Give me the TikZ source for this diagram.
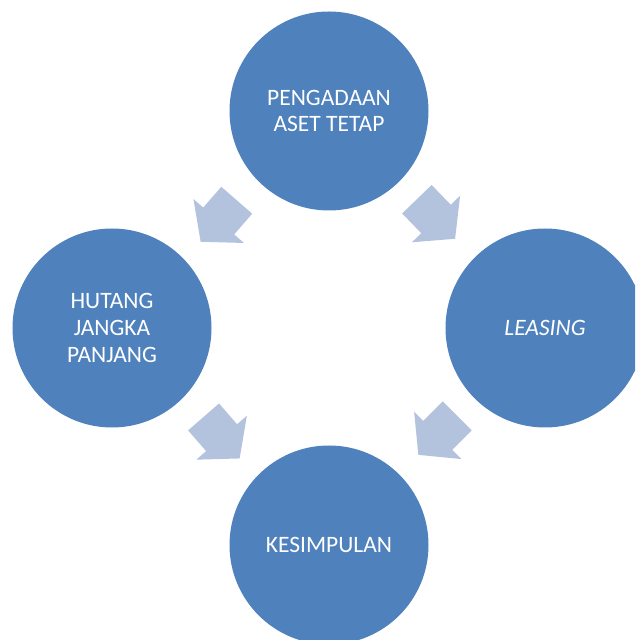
\documentclass[tikz,border=0pt]{standalone}
\usepackage{fontspec}
\setmainfont{Carlito}
\definecolor{circblue}{RGB}{79,129,189}
\definecolor{arrowblue}{RGB}{179,195,222}
\tikzset{
  stage/.style={circle, fill=circblue, draw=none, minimum size=199pt, inner sep=0pt,
    text=white, align=center, font=\fontsize{23.5}{26.7}\selectfont},
  blockarrow/.pic={
    \fill[arrowblue] (-27.5,-20.5) -- (0,-20.5) -- (0,-33.5) -- (27.5,0)
      -- (0,33.5) -- (0,20.5) -- (-27.5,20.5) -- cycle;
  }
}
\begin{document}
\begin{tikzpicture}[x=1pt,y=1pt]
\useasboundingbox (0,0) rectangle (635,640);
\clip (0,0) rectangle (635,640);
\node[stage] (top) at (329,529) {PENGADAAN\\ASET TETAP};
\node[stage] (left) at (112,312) {HUTANG\\JANGKA\\PANJANG};
\node[stage] (right) at (545,312) {\itshape LEASING};
\node[stage] (bottom) at (329,95) {KESIMPULAN};
\pic[rotate=229] (a1) at (218.7,419) {blockarrow};
\pic[rotate=314] (a2) at (436,421) {blockarrow};
\pic[rotate=311] (a3) at (221.6,202.3) {blockarrow};
\pic[rotate=225] (a4) at (437.8,204.6) {blockarrow};
\end{tikzpicture}
\end{document}
